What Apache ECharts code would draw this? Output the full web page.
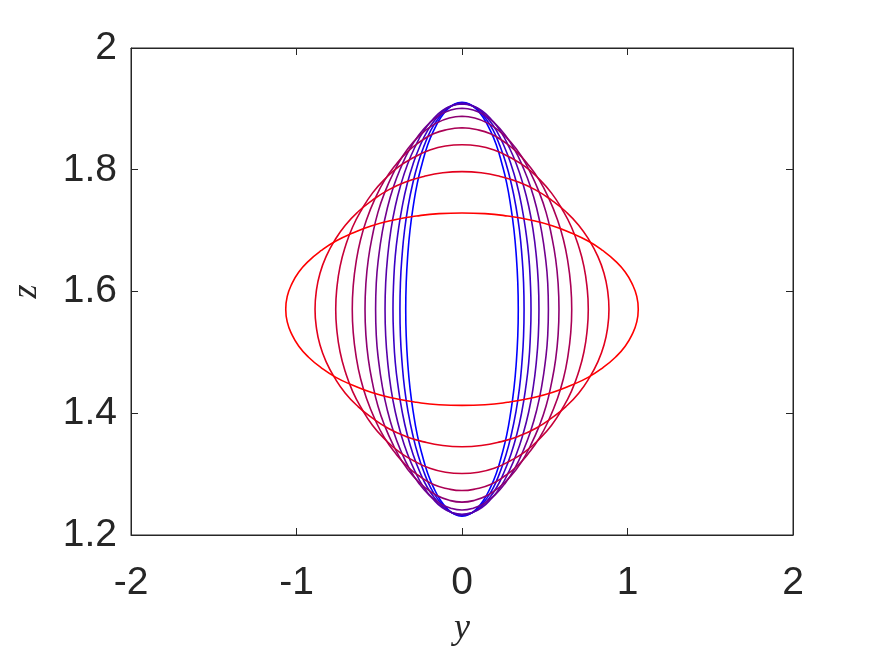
<!DOCTYPE html>
<html>
<head>
<meta charset="utf-8">
<script src="https://cdn.jsdelivr.net/npm/echarts@6/dist/echarts.min.js"></script>
<style>
  html, body { margin: 0; padding: 0; background: #fff; }
  #chart { width: 875px; height: 657px; }
</style>
</head>
<body>
<div id="chart"></div>
<script>
// tick labels
var xTicks = [-2, -1, 0, 1, 2];
var zTicks = [1.2, 1.4, 1.6, 1.8, 2];

// middle of every loop (z)
var zMid = 1.571;

// upper-right quarter of each loop, [y, z], from the top down to the widest point
// blue (inner) first, red (outer) last
var loop0 = [[0, 1.911], [0.044, 1.908], [0.088, 1.899], [0.130, 1.885], [0.170, 1.865], [0.207, 1.841], [0.240, 1.811],
             [0.270, 1.778], [0.294, 1.741], [0.314, 1.701], [0.328, 1.659], [0.337, 1.615], [0.340, 1.571]];
var loop1 = [[0, 1.910], [0.049, 1.907], [0.097, 1.898], [0.144, 1.884], [0.188, 1.865], [0.228, 1.840], [0.265, 1.811],
             [0.298, 1.777], [0.325, 1.741], [0.347, 1.701], [0.362, 1.659], [0.372, 1.615], [0.375, 1.571]];
var loop2 = [[0, 1.909], [0.054, 1.906], [0.108, 1.898], [0.160, 1.883], [0.209, 1.864], [0.254, 1.839], [0.295, 1.810],
             [0.331, 1.777], [0.361, 1.740], [0.385, 1.700], [0.403, 1.659], [0.413, 1.615], [0.417, 1.571]];
var loop3 = [[0, 1.908], [0.061, 1.905], [0.120, 1.897], [0.178, 1.882], [0.233, 1.863], [0.283, 1.838], [0.329, 1.809],
             [0.369, 1.776], [0.403, 1.740], [0.430, 1.700], [0.449, 1.658], [0.461, 1.615], [0.465, 1.571]];
var loop4 = [[0, 1.901], [0.068, 1.898], [0.135, 1.890], [0.200, 1.876], [0.261, 1.857], [0.318, 1.833], [0.369, 1.804],
             [0.414, 1.772], [0.452, 1.736], [0.482, 1.697], [0.504, 1.656], [0.518, 1.614], [0.522, 1.571]];
var loop5 = [[0, 1.888], [0.077, 1.885], [0.152, 1.877], [0.224, 1.864], [0.293, 1.846], [0.357, 1.823], [0.414, 1.795],
             [0.465, 1.764], [0.508, 1.730], [0.541, 1.692], [0.566, 1.653], [0.581, 1.612], [0.586, 1.571]];
var loop6 = [[0, 1.869], [0.087, 1.866], [0.172, 1.859], [0.254, 1.846], [0.332, 1.829], [0.404, 1.807], [0.469, 1.782],
             [0.526, 1.752], [0.574, 1.720], [0.613, 1.685], [0.640, 1.648], [0.657, 1.610], [0.663, 1.571]];
var loop7 = [[0, 1.841], [0.100, 1.839], [0.198, 1.832], [0.292, 1.820], [0.382, 1.805], [0.465, 1.785], [0.540, 1.762],
             [0.605, 1.735], [0.661, 1.706], [0.705, 1.674], [0.737, 1.641], [0.756, 1.606], [0.763, 1.571]];
var loop8 = [[0, 1.797], [0.116, 1.795], [0.230, 1.789], [0.340, 1.780], [0.444, 1.767], [0.541, 1.750], [0.628, 1.731],
             [0.705, 1.709], [0.769, 1.684], [0.820, 1.658], [0.858, 1.630], [0.880, 1.601], [0.888, 1.571]];
var loop9 = [[0, 1.729], [0.139, 1.728], [0.276, 1.724], [0.420, 1.717], [0.545, 1.708], [0.660, 1.696], [0.762, 1.683],
             [0.852, 1.667], [0.927, 1.650], [0.986, 1.632], [1.029, 1.612], [1.056, 1.592], [1.065, 1.571]];

var quarters = [loop0, loop1, loop2, loop3, loop4, loop5, loop6, loop7, loop8, loop9];

// the loops are symmetric, so close each one from its quarter
function closeLoop(q) {
    var pts = q.slice();
    var i;
    for (i = q.length - 2; i >= 0; i--) pts.push([q[i][0], 2 * zMid - q[i][1]]);
    for (i = 1; i < q.length; i++) pts.push([-q[i][0], 2 * zMid - q[i][1]]);
    for (i = q.length - 2; i >= 0; i--) pts.push([-q[i][0], q[i][1]]);
    return pts;
}

var axisColor = '#262626';
var tickFont = { color: axisColor, fontSize: 39, fontFamily: 'Liberation Sans, Arial, sans-serif' };
var nameFont = { fontSize: 36, fontStyle: 'italic', fontFamily: 'Liberation Serif, serif', color: axisColor };

var series = quarters.map(function (q, i) {
    var t = i / (quarters.length - 1);
    var col = 'rgb(' + Math.round(255 * t) + ',0,' + Math.round(255 * (1 - t)) + ')';
    return {
        type: 'line',
        data: closeLoop(q),
        smooth: 0.5,
        showSymbol: false,
        symbol: 'none',
        lineStyle: { color: col, width: 1.6 },
        animation: false
    };
});

var chart = echarts.init(document.getElementById('chart'), null, { renderer: 'canvas' });

chart.setOption({
    backgroundColor: '#fff',
    animation: false,
    grid: {
        left: 131, right: 82, top: 48, bottom: 122,
        containLabel: false, outerBoundsMode: 'none',
        show: true, borderColor: axisColor, borderWidth: 1
    },
    xAxis: [{
        type: 'value', min: -2, max: 2, interval: 1,
        name: 'y', nameLocation: 'middle', nameGap: 76, nameTextStyle: nameFont,
        axisLine: { show: true, onZero: false, lineStyle: { color: axisColor } },
        axisTick: { show: true, inside: true, length: 7, lineStyle: { color: axisColor } },
        axisLabel: Object.assign({ margin: 29, formatter: function (v) { return xTicks.indexOf(v) >= 0 ? String(v) : ''; } }, tickFont),
        splitLine: { show: false }
    }, {
        type: 'value', min: -2, max: 2, interval: 1, position: 'top',
        axisLine: { show: true, onZero: false, lineStyle: { color: axisColor } },
        axisTick: { show: true, inside: true, length: 7, lineStyle: { color: axisColor } },
        axisLabel: { show: false },
        splitLine: { show: false }
    }],
    yAxis: [{
        type: 'value', min: 1.2, max: 2, interval: 0.2,
        name: 'z', nameLocation: 'middle', nameGap: 86, nameRotate: 90, nameTextStyle: nameFont,
        axisLine: { show: true, onZero: false, lineStyle: { color: axisColor } },
        axisTick: { show: true, inside: true, length: 7, lineStyle: { color: axisColor } },
        axisLabel: Object.assign({ margin: 14, formatter: function (v) { return String(Math.round(v * 10) / 10); } }, tickFont),
        splitLine: { show: false }
    }, {
        type: 'value', min: 1.2, max: 2, interval: 0.2, position: 'right',
        axisLine: { show: true, onZero: false, lineStyle: { color: axisColor } },
        axisTick: { show: true, inside: true, length: 7, lineStyle: { color: axisColor } },
        axisLabel: { show: false },
        splitLine: { show: false }
    }],
    series: series
});
</script>
</body>
</html>
